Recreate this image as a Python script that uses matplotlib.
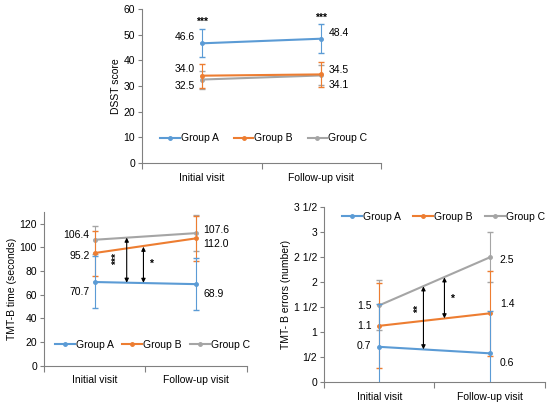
import matplotlib
matplotlib.use("Agg")
import matplotlib.pyplot as plt

plt.rcParams['font.family'] = ['Liberation Sans', 'DejaVu Sans']
plt.rcParams['font.size'] = 7.5

visits = ["Initial visit", "Follow-up visit"]
groups = ["Group A", "Group B", "Group C"]
colors = ["#5B9BD5", "#ED7D31", "#A5A5A5"]

# DSST score
dsst = [[46.6, 48.4], [34.0, 34.5], [32.5, 34.1]]
dsst_err = [[5.5, 5.6], [4.6, 4.8], [3.5, 3.9]]

# TMT-B time (seconds)
tmt_time = [[70.7, 68.9], [95.2, 107.6], [106.4, 112.0]]
tmt_time_err = [[22.0, 22.0], [19.0, 19.0], [12.0, 15.0]]
tmt_time_lbl_l = ["70.7", "95.2", "106.4"]
tmt_time_lbl_r = ["68.9", "112.0", "107.6"]

# TMT-B errors (number)
tmt_err = [[0.71, 0.58], [1.13, 1.38], [1.54, 2.50]]
tmt_err_sd = [[0.85, 0.85], [0.85, 0.85], [0.5, 0.5]]
err_ticks = [0, 0.5, 1, 1.5, 2, 2.5, 3, 3.5]
err_tick_lbls = ["0", "1/2", "1", "1 1/2", "2", "2 1/2", "3", "3 1/2"]

axis_col = "#808080"


def style(ax, ymax):
    for s in ["top", "right"]:
        ax.spines[s].set_visible(False)
    for s in ["left", "bottom"]:
        ax.spines[s].set_color(axis_col)
        ax.spines[s].set_linewidth(0.8)
    ax.set_xlim(-0.5, 1.5)
    ax.set_ylim(0, ymax)
    ax.set_xticks([-0.5, 0.5, 1.5])
    ax.set_xticklabels([])
    ax.set_xticks([0, 1], minor=True)
    ax.set_xticklabels(visits, minor=True)
    ax.tick_params(axis='x', which='major', length=4, color=axis_col, direction='out')
    ax.tick_params(axis='x', which='minor', length=0, pad=7)
    ax.tick_params(axis='y', length=3, color=axis_col, pad=2)


def draw(ax, data, err, order=(2, 1, 0)):
    x = [0, 1]
    for i in order:
        ax.errorbar(x, data[i], yerr=err[i], color=colors[i], lw=1.5,
                    marker='o', ms=2.5, elinewidth=0.8, capsize=2,
                    ecolor=colors[i], label=groups[i], zorder=3 + (2 - i))


def legend(ax, bx, by, spacing):
    h, l = ax.get_legend_handles_labels()
    idx = [l.index(g) for g in groups]
    ax.legend([h[i][0] for i in idx], [l[i] for i in idx], ncol=3, frameon=False,
              loc='center', bbox_to_anchor=(bx, by), handlelength=1.9,
              columnspacing=spacing, handletextpad=0.1, fontsize=7.5)


def darrow(ax, x, y0, y1):
    ax.annotate("", xy=(x, y1), xytext=(x, y0),
                arrowprops=dict(arrowstyle='<|-|>', color='black', lw=0.8,
                                mutation_scale=6, shrinkA=0, shrinkB=0), zorder=6)


fig = plt.figure(figsize=(5.5, 4.05), dpi=100)

# top panel
ax1 = fig.add_axes([0.258, 0.5975, 0.435, 0.3805])
draw(ax1, dsst, dsst_err)
style(ax1, 60)
ax1.set_yticks(range(0, 61, 10))
ax1.set_ylabel("DSST score", labelpad=2)
legend(ax1, 0.51, 0.16, 1.4)
lbl_dy_l = [2.6, 2.7, -2.5]
lbl_dy_r = [2.1, 1.8, -3.6]
for i in range(3):
    ax1.text(-0.06, dsst[i][0] + lbl_dy_l[i], f"{dsst[i][0]:.1f}", ha='right', va='center')
    ax1.text(1.06, dsst[i][1] + lbl_dy_r[i], f"{dsst[i][1]:.1f}", ha='left', va='center')
ax1.text(0, 55.0, "***", ha='center', va='center', fontsize=7.5, fontweight='bold')
ax1.text(1, 56.5, "***", ha='center', va='center', fontsize=7.5, fontweight='bold')

# bottom-left panel
ax2 = fig.add_axes([0.080, 0.097, 0.369, 0.380])
draw(ax2, tmt_time, tmt_time_err)
style(ax2, 130)
ax2.set_yticks(range(0, 121, 20))
ax2.set_ylabel("TMT-B time (seconds)", labelpad=2)
legend(ax2, 0.535, 0.135, 0.8)
ax2.text(-0.05, 62, tmt_time_lbl_l[0], ha='right', va='center')
ax2.text(-0.05, 93, tmt_time_lbl_l[1], ha='right', va='center')
ax2.text(-0.05, 110, tmt_time_lbl_l[2], ha='right', va='center')
ax2.text(1.07, 61, tmt_time_lbl_r[0], ha='left', va='center')
ax2.text(1.07, 103, tmt_time_lbl_r[1], ha='left', va='center')
ax2.text(1.07, 115, tmt_time_lbl_r[2], ha='left', va='center')
darrow(ax2, 0.315, 70.1, 108.2)
darrow(ax2, 0.48, 70.0, 100.5)
ax2.text(0.22, 90, "***", rotation=90, ha='center', va='center', fontsize=7.5, fontweight='bold')
ax2.text(0.55, 86, "*", ha='center', va='center', fontsize=7.5, fontweight='bold')

# bottom-right panel
ax3 = fig.add_axes([0.589, 0.056, 0.402, 0.432])
draw(ax3, tmt_err, tmt_err_sd)
style(ax3, 3.5)
ax3.set_yticks(err_ticks)
ax3.set_yticklabels(err_tick_lbls)
ax3.set_ylabel("TMT- B errors (number)", labelpad=2)
legend(ax3, 0.54, 0.945, 1.2)
lbl_l = [0.73, 1.12, 1.53]
lbl_r = [0.38, 1.57, 2.45]
for i in range(3):
    ax3.text(-0.07, lbl_l[i], f"{tmt_err[i][0]:.1f}", ha='right', va='center')
    ax3.text(1.09, lbl_r[i], f"{tmt_err[i][1]:.1f}", ha='left', va='center')
darrow(ax3, 0.40, 0.66, 1.92)
darrow(ax3, 0.59, 1.28, 2.10)
ax3.text(0.36, 1.46, "**", rotation=90, ha='center', va='center', fontsize=7.5, fontweight='bold')
ax3.text(0.66, 1.67, "*", ha='center', va='center', fontsize=7.5, fontweight='bold')

fig.savefig("out.png", dpi=100)
